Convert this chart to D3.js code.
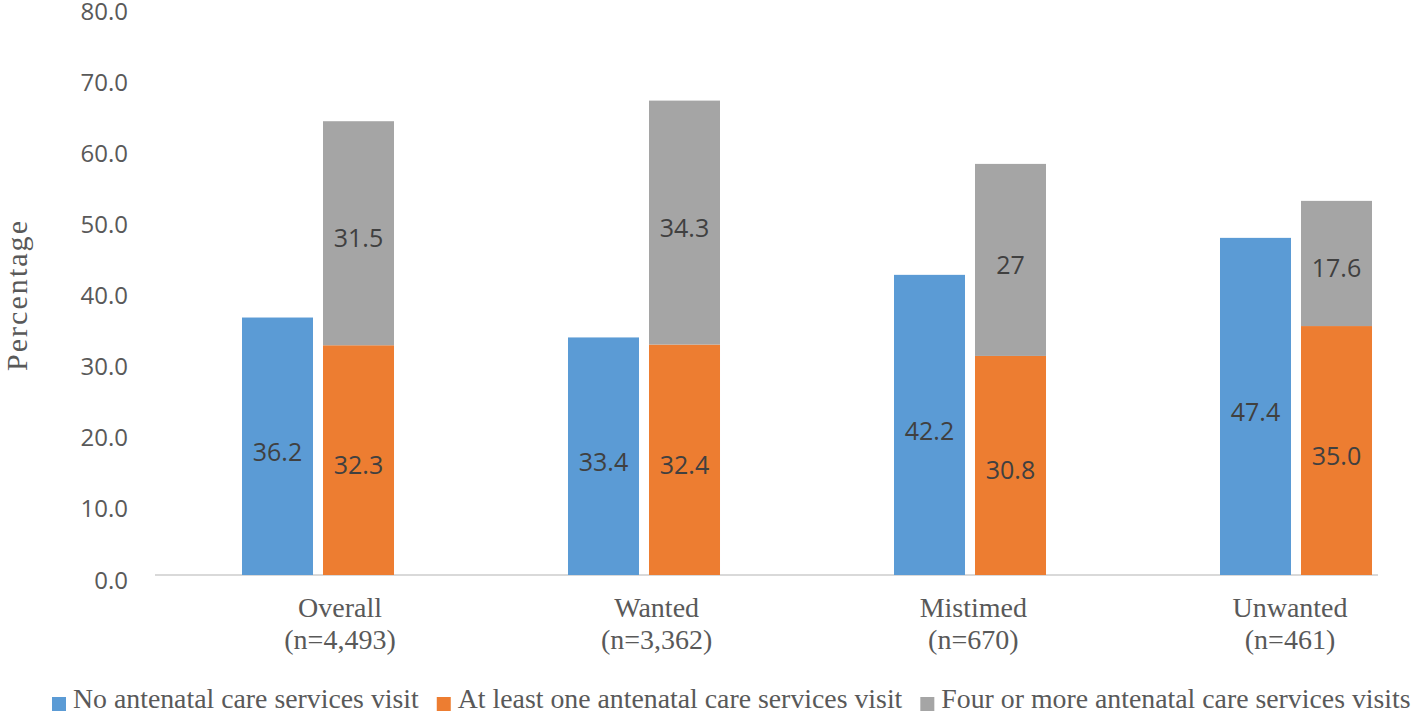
<!DOCTYPE html>
<html>
<head>
<meta charset="utf-8">
<script src="https://cdn.jsdelivr.net/npm/d3@7"></script>
<style>
  html, body { margin: 0; padding: 0; background: #fff; }
  svg { display: block; }
</style>
</head>
<body>
<svg id="chart" width="1418" height="713"></svg>
<script>
// ---- data ----
const categories = ["Overall", "Wanted", "Mistimed", "Unwanted"];
const categorySub = ["(n=4,493)", "(n=3,362)", "(n=670)", "(n=461)"];
const noVisit = [36.2, 33.4, 42.2, 47.4];
const atLeastOne = [32.3, 32.4, 30.8, 35.0];
const fourOrMore = [31.5, 34.3, 27, 17.6];
const fourOrMoreLabels = ["31.5", "34.3", "27", "17.6"];
const yTicks = [0, 10, 20, 30, 40, 50, 60, 70, 80];
const seriesNames = ["No antenatal care services visit", "At least one antenatal care services visit", "Four or more antenatal care services visits"];
const colors = ["#5b9bd5", "#ed7d31", "#a5a5a5"];

// ---- layout ----
const svg = d3.select("#chart");
const plotLeft = 155, plotRight = 1378, plotTop = 6, plotBottom = 575;
const groupStep = 326;

const x = d3.scaleBand().domain(categories)
  .range([plotLeft, plotLeft + groupStep * categories.length]).padding(0);
const xSub = d3.scaleBand().domain(["blue", "stack"])
  .range([0, x.bandwidth()]).paddingInner(10 / 81).paddingOuter(1.074);
const y = d3.scaleLinear().domain([0, 80]).range([plotBottom, plotTop]);
const xLabel = d3.scalePoint().domain(categories).range([340, 1290]);

// y tick labels
svg.append("g").selectAll("text").data(yTicks).join("text")
  .attr("x", 128).attr("y", d => y(d) + 4)
  .attr("text-anchor", "end").attr("dominant-baseline", "central")
  .attr("font-family", "'Open Sans', sans-serif").attr("font-size", 24)
  .attr("fill", "#595959")
  .text(d => d.toFixed(1));

// axis line
svg.append("line")
  .attr("x1", plotLeft).attr("x2", plotRight)
  .attr("y1", y(0)).attr("y2", y(0))
  .attr("stroke", "#d9d9d9").attr("stroke-width", 2);

// bars
const rows = categories.map((c, i) => ({ c, i, b: noVisit[i], o: atLeastOne[i], g: fourOrMore[i] }));
const gBars = svg.append("g");
gBars.selectAll("rect.blue").data(rows).join("rect")
  .attr("x", d => x(d.c) + xSub("blue")).attr("width", xSub.bandwidth())
  .attr("y", d => y(d.b)).attr("height", d => y(0) - y(d.b))
  .attr("fill", colors[0]);
gBars.selectAll("rect.orange").data(rows).join("rect")
  .attr("x", d => x(d.c) + xSub("stack")).attr("width", xSub.bandwidth())
  .attr("y", d => y(d.o)).attr("height", d => y(0) - y(d.o))
  .attr("fill", colors[1]);
gBars.selectAll("rect.gray").data(rows).join("rect")
  .attr("x", d => x(d.c) + xSub("stack")).attr("width", xSub.bandwidth())
  .attr("y", d => y(d.o + d.g)).attr("height", d => y(d.o) - y(d.o + d.g))
  .attr("fill", colors[2]);

// data labels
const lblFont = "'Open Sans', sans-serif";
function dataLabel(sel, xf, yf, tf) {
  sel.attr("x", xf).attr("y", yf).text(tf)
    .attr("text-anchor", "middle").attr("dominant-baseline", "central")
    .attr("font-family", lblFont).attr("font-size", 25).attr("fill", "#404040");
}
const gL = svg.append("g");
gL.selectAll("text.b").data(rows).join("text").call(dataLabel,
  d => x(d.c) + xSub("blue") + xSub.bandwidth() / 2,
  d => (y(0) + y(d.b)) / 2 + 5, d => d.b.toFixed(1));
gL.selectAll("text.o").data(rows).join("text").call(dataLabel,
  d => x(d.c) + xSub("stack") + xSub.bandwidth() / 2,
  d => (y(0) + y(d.o)) / 2 + 4, d => d.o.toFixed(1));
gL.selectAll("text.g").data(rows).join("text").call(dataLabel,
  d => x(d.c) + xSub("stack") + xSub.bandwidth() / 2,
  d => (y(d.o) + y(d.o + d.g)) / 2 + 4, d => fourOrMoreLabels[d.i]);

// category labels
const serif = "'Liberation Serif', 'Times New Roman', serif";
const gC = svg.append("g");
gC.selectAll("text.c1").data(rows).join("text")
  .attr("x", d => xLabel(d.c)).attr("y", 617)
  .attr("text-anchor", "middle").attr("font-family", serif).attr("font-size", 28)
  .attr("fill", "#595959").text(d => d.c);
gC.selectAll("text.c2").data(rows).join("text")
  .attr("x", d => xLabel(d.c)).attr("y", 649)
  .attr("text-anchor", "middle").attr("font-family", serif).attr("font-size", 28)
  .attr("fill", "#595959").text(d => categorySub[d.i]);

// y axis title
svg.append("text")
  .attr("transform", "translate(27,296) rotate(-90)")
  .attr("text-anchor", "middle").attr("font-family", serif).attr("font-size", 30)
  .attr("fill", "#595959").attr("textLength", 150).attr("lengthAdjust", "spacing")
  .text("Percentage");

// legend
const gLeg = svg.append("g");
let lx = 52;
seriesNames.forEach((name, i) => {
  gLeg.append("rect").attr("x", lx).attr("y", 697).attr("width", 14).attr("height", 14)
    .attr("fill", colors[i]);
  const t = gLeg.append("text").attr("x", lx + 21).attr("y", 708)
    .attr("font-family", serif).attr("font-size", 27.8).attr("fill", "#595959")
    .text(name);
  lx = lx + 21 + t.node().getComputedTextLength() + 18;
});
</script>
</body>
</html>
